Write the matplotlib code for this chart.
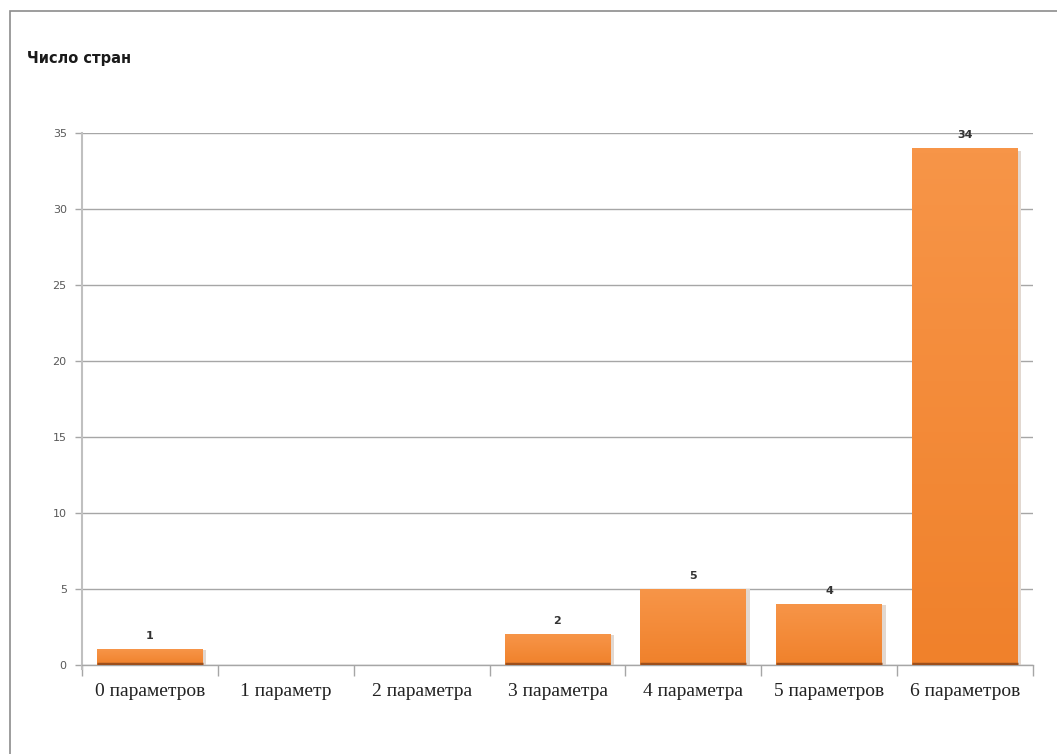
import numpy as np
import matplotlib
matplotlib.use("Agg")
import matplotlib.pyplot as plt
from matplotlib.colors import LinearSegmentedColormap
from matplotlib.patches import Rectangle

# data
categories = ["0 параметров", "1 параметр", "2 параметра", "3 параметра",
              "4 параметра", "5 параметров", "6 параметров"]
values = [1, 0, 0, 2, 5, 4, 34]
y_ticks = [0, 5, 10, 15, 20, 25, 30, 35]
title = "Число стран"

fig = plt.figure(figsize=(10.57, 7.54), dpi=100)
fig.patch.set_facecolor("white")

# outer frame of the chart
fig.add_artist(Rectangle((10 / 1057, -0.05), 1.1, 1 - 11 / 754 + 0.05,
                         transform=fig.transFigure, fill=False,
                         edgecolor="#8c8c8c", linewidth=1.2))

ax = fig.add_axes([82 / 1057, 1 - 665 / 754, (1033 - 82) / 1057, (665 - 133) / 754])

x = np.arange(len(categories))
width = 0.78
grad = LinearSegmentedColormap.from_list("og", ["#f0812b", "#f79548"])
gimg = np.linspace(0, 1, 100).reshape(-1, 1)

bars = ax.bar(x, values, width=width, color="#f58a37", edgecolor="none", zorder=3)
for b, v in zip(bars, values):
    if v <= 0:
        continue
    x0 = b.get_x()
    # soft shadow on the right
    ax.add_patch(Rectangle((x0 + width, 0), 0.025, v * 0.995, facecolor="#e2d8d0",
                           edgecolor="none", zorder=2))
    ax.imshow(gimg, extent=(x0, x0 + width, 0, v), origin="lower", cmap=grad,
              aspect="auto", zorder=3.5)
    ax.plot([x0, x0 + width], [0.05, 0.05], color="#9c4f1c", lw=2.5, zorder=4,
            solid_capstyle="butt")
    ax.text(b.get_x() + width / 2, v + 0.55, str(v), ha="center", va="bottom",
            fontsize=8, color="#333333", fontweight="bold", zorder=5)

ax.set_xlim(-0.5, len(categories) - 0.5)
ax.set_ylim(0, 35)
ax.set_yticks(y_ticks)
ax.set_yticklabels([str(t) for t in y_ticks], fontsize=8, color="#595959")
ax.yaxis.grid(True, color="#a6a6a6", linewidth=1)
ax.set_axisbelow(True)

ax.set_xticks(x)
ax.set_xticklabels(categories, fontsize=14, family="Liberation Serif", color="#222222")
ax.tick_params(axis="x", length=0, pad=13)
ax.set_xticks(np.arange(-0.5, len(categories)), minor=True)
ax.tick_params(axis="x", which="minor", length=8, color="#a6a6a6", width=1)
ax.tick_params(axis="y", length=5, color="#a6a6a6", width=1, pad=6)

for s in ["top", "right"]:
    ax.spines[s].set_visible(False)
ax.spines["left"].set_color("#c0c0c0")
ax.spines["left"].set_linewidth(1.5)
ax.spines["left"].set_bounds(-0.25, 35)
ax.spines["bottom"].set_color("#a6a6a6")
ax.spines["bottom"].set_linewidth(1)

fig.text(27 / 1057, 1 - 58 / 754, title, fontsize=10.5, fontweight="bold",
         color="#1a1a1a", va="center")

fig.savefig("out.png", dpi=100, facecolor="white")
